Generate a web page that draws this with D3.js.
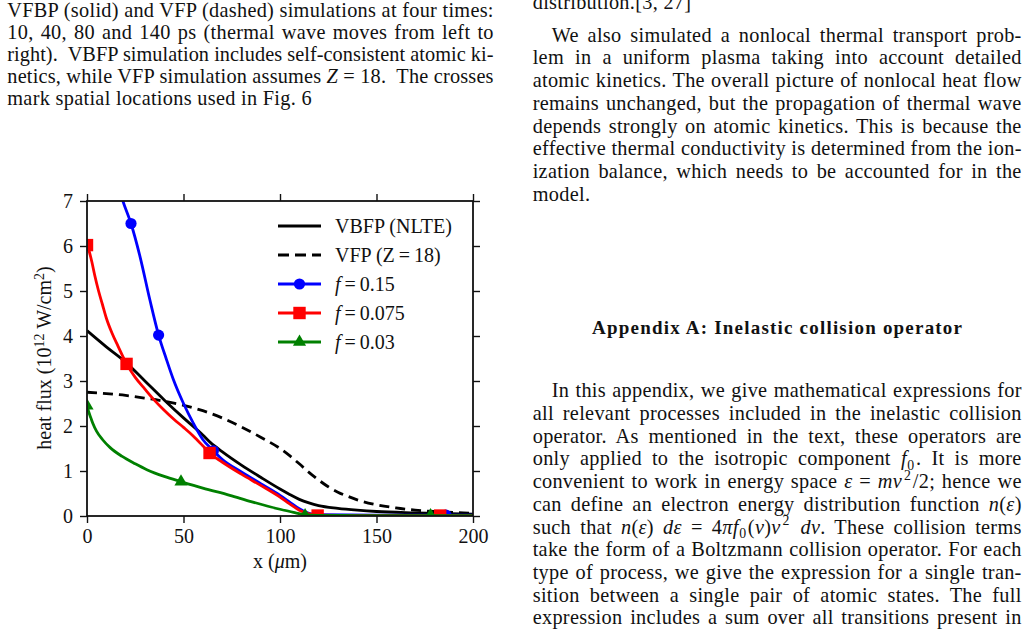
<!DOCTYPE html>
<html>
<head>
<meta charset="utf-8">
<script src="https://cdnjs.cloudflare.com/ajax/libs/d3/7.8.5/d3.min.js"></script>
<style>
body{margin:0;background:#fff;}
svg{display:block;}
</style>
</head>
<body>
<div id="page"></div>
<script>
// ---- chart data ----
var xTicks = [0, 50, 100, 150, 200];
var yTicks = [0, 1, 2, 3, 4, 5, 6, 7];

var xVBFP = [0, 10, 20, 30, 40, 50, 60, 64, 70, 80, 90, 100, 105, 110, 115, 120, 130, 140, 150, 170, 200];
var yVBFP = [4.12, 3.76, 3.42, 3.0, 2.58, 2.18, 1.8, 1.63, 1.43, 1.13, 0.86, 0.6, 0.48, 0.37, 0.29, 0.23, 0.17, 0.13, 0.1, 0.07, 0.04];

var xVFP = [0, 10, 20, 30, 40, 50, 60, 70, 80, 90, 100, 105, 110, 115, 120, 125, 130, 135, 140, 150, 160, 170, 180, 190, 200];
var yVFP = [2.75, 2.72, 2.68, 2.62, 2.55, 2.46, 2.34, 2.18, 1.98, 1.75, 1.5, 1.34, 1.16, 0.97, 0.8, 0.65, 0.53, 0.44, 0.36, 0.25, 0.18, 0.13, 0.1, 0.08, 0.06];

var xF015 = [16.5, 18.6, 22.8, 27.5, 32.6, 37.1, 41, 44.6, 50, 55, 60, 65.5, 70, 80, 90, 100, 105, 110, 115, 120, 150, 186, 200];
var yF015 = [7.3, 7.0, 6.5, 5.76, 4.8, 4.02, 3.5, 3.05, 2.5, 2.07, 1.7, 1.45, 1.26, 0.98, 0.72, 0.46, 0.31, 0.16, 0.06, 0.03, 0.02, 0.02, 0.02];
var mxF015 = [22.8, 37.1, 65.5, 186];
var myF015 = [6.5, 4.02, 1.45, 0.02];

var xF0075 = [0, 1, 2.5, 4, 6, 8, 10, 13, 16, 20.5, 25, 30, 35, 40, 45, 50, 55, 60, 63.5, 70, 80, 90, 100, 105, 110, 115, 120, 140, 170, 200];
var yF0075 = [6.02, 5.9, 5.65, 5.35, 5.0, 4.7, 4.4, 4.06, 3.78, 3.38, 3.08, 2.82, 2.57, 2.35, 2.15, 1.97, 1.78, 1.56, 1.4, 1.2, 0.93, 0.68, 0.42, 0.27, 0.13, 0.05, 0.02, 0.01, 0.01, 0.01];
var mxF0075 = [0, 20.5, 63.5, 119.5, 183];
var myF0075 = [6.02, 3.38, 1.4, 0.01, 0.01];

var xF003 = [0, 1, 2, 3, 5, 8, 12, 18, 25, 31, 40, 49, 60, 74, 85, 91, 100, 107, 113, 120, 140, 178, 200];
var yF003 = [2.45, 2.3, 2.18, 2.06, 1.88, 1.7, 1.52, 1.33, 1.16, 1.03, 0.88, 0.76, 0.62, 0.46, 0.32, 0.25, 0.15, 0.08, 0.03, 0.015, 0.01, 0.01, 0.01];
var mxF003 = [0, 48.7, 113, 178];
var myF003 = [2.45, 0.76, 0.01, 0.01];

var legendLabels = ["VBFP (NLTE)", "VFP (Z\u2009=\u200918)", "0.15", "0.075", "0.03"];

// ---- surrounding paper text ----
var captionLines = [
  ["VFBP (solid) and VFP (dashed) simulations at four times:"],
  ["10, 40, 80 and 140 ps (thermal wave moves from left to"],
  ["right).  VBFP simulation includes self-consistent atomic ki-"],
  ["netics, while VFP simulation assumes ", {t: "Z", i: 1}, " = 18.  The crosses"],
  ["mark spatial locations used in Fig. 6"]
];
var rightLines = [
  ["We also simulated a nonlocal thermal transport prob-"],
  ["lem in a uniform plasma taking into account detailed"],
  ["atomic kinetics. The overall picture of nonlocal heat flow"],
  ["remains unchanged, but the propagation of thermal wave"],
  ["depends strongly on atomic kinetics. This is because the"],
  ["effective thermal conductivity is determined from the ion-"],
  ["ization balance, which needs to be accounted for in the"],
  ["model."]
];
var appendixLines = [
  ["In this appendix, we give mathematical expressions for"],
  ["all relevant processes included in the inelastic collision"],
  ["operator. As mentioned in the text, these operators are"],
  ["only applied to the isotropic component ", {t: "f", i: 1}, {t: "0", sub: 1}, ". It is more"],
  ["convenient to work in energy space ", {t: "\u03b5", i: 1}, " = ", {t: "mv", i: 1}, {t: "2", sup: 1}, "/2; hence we"],
  ["can define an electron energy distribution function ", {t: "n", i: 1}, "(", {t: "\u03b5", i: 1}, ")"],
  ["such that ", {t: "n", i: 1}, "(", {t: "\u03b5", i: 1}, ") ", {t: "d\u03b5", i: 1}, " = 4", {t: "\u03c0f", i: 1}, {t: "0", sub: 1}, "(", {t: "v", i: 1}, ")", {t: "v", i: 1}, {t: "2", sup: 1}, " ", {t: "dv", i: 1}, ". These collision terms"],
  ["take the form of a Boltzmann collision operator. For each"],
  ["type of process, we give the expression for a single tran-"],
  ["sition between a single pair of atomic states. The full"],
  ["expression includes a sum over all transitions present in"]
];

var W = 1029, H = 632;
var serif = "'Liberation Serif', 'Times New Roman', serif";

var svg = d3.select("#page").append("svg")
  .attr("width", W).attr("height", H)
  .style("background", "#fff");

// writes one line of text, justified to width when width is given
function textLine(g, x, y, segs, width, size, weight) {
  var t = g.append("text").attr("x", x).attr("y", y)
    .attr("fill", "#111")
    .style("font-family", serif)
    .style("font-size", size + "px")
    .style("font-weight", weight || "normal")
    .style("letter-spacing", "0.3px")
    .style("white-space", "pre");
  var shift = 0, prevScript = false, extra = 0;
  segs.forEach(function(s) {
    if (typeof s === "string") s = {t: s};
    var sp = t.append("tspan").text(s.t);
    var target = 0;
    if (s.sub) target = 0.22 * size;
    if (s.sup) target = -0.4 * size;
    if (target !== shift) { sp.attr("dy", target - shift); shift = target; }
    if (s.sub || s.sup) {
      var d = s.sup ? 2 : 0.5;
      sp.style("font-size", (size * 0.68) + "px").attr("dx", d);
      extra += d;
      prevScript = true;
    } else if (prevScript) {
      sp.attr("dx", 1.5);
      extra += 1.5;
      prevScript = false;
    }
    if (s.i) sp.style("font-style", "italic");
  });
  if (width) {
    var nat = t.node().getComputedTextLength() + extra;
    var gaps = (t.text().match(/ /g) || []).length;
    if (nat < width && gaps) t.style("word-spacing", ((width - nat) / gaps) + "px");
    else t.attr("textLength", width - extra).attr("lengthAdjust", "spacing");
  }
  return t;
}

var paper = svg.append("g");
var fs = 20.3;

// left caption
captionLines.forEach(function(l, i) {
  var last = i === captionLines.length - 1;
  textLine(paper, 7.3, 17.3 + i * 21.9, l, last ? 0 : 486.5, fs);
});

// right column
textLine(paper, 532.7, 9.3, ["distribution.[3, 27]"], 0, fs);
rightLines.forEach(function(l, i) {
  var last = i === rightLines.length - 1;
  var x0 = i === 0 ? 551.7 : 532.7;
  textLine(paper, x0, 41.7 + i * 22.7, l, last ? 0 : 1021.7 - x0, fs);
});

paper.append("text")
  .attr("x", 777).attr("y", 334)
  .attr("text-anchor", "middle")
  .attr("fill", "#111")
  .style("font-family", serif).style("font-size", "19px").style("font-weight", "bold")
  .attr("textLength", 370).attr("lengthAdjust", "spacing")
  .text("Appendix A: Inelastic collision operator");

appendixLines.forEach(function(l, i) {
  var x0 = i === 0 ? 551.7 : 532.7;
  textLine(paper, x0, 397.3 + i * 22.7, l, 1021.7 - x0, fs);
});

// ---- chart ----
var x = d3.scaleLinear().domain([0, 200]).range([87, 473]);
var y = d3.scaleLinear().domain([0, 7]).range([516, 201]);
var chart = svg.append("g");
var cfs = 20;

svg.append("defs").append("clipPath").attr("id", "plotclip")
  .append("rect")
  .attr("x", x(0)).attr("y", y(7))
  .attr("width", x(200) - x(0)).attr("height", y(0) - y(7));

function styleAxis(g, labels) {
  g.select(".domain").remove();
  g.selectAll(".tick line").attr("stroke", "#111").attr("stroke-width", 1.4);
  g.selectAll(".tick text")
    .style("font-family", serif).style("font-size", cfs + "px").attr("fill", "#111");
  if (!labels) g.selectAll(".tick text").remove();
}

chart.append("g").attr("transform", "translate(0," + y(0) + ")")
  .call(d3.axisBottom(x).tickValues(xTicks).tickFormat(d3.format("d")).tickSize(7).tickPadding(6))
  .call(styleAxis, true);
chart.append("g").attr("transform", "translate(0," + y(7) + ")")
  .call(d3.axisTop(x).tickValues(xTicks).tickSize(7))
  .call(styleAxis, false);
chart.append("g").attr("transform", "translate(" + x(0) + ",0)")
  .call(d3.axisLeft(y).tickValues(yTicks).tickFormat(d3.format("d")).tickSize(7).tickPadding(7))
  .call(styleAxis, true);
chart.append("g").attr("transform", "translate(" + x(200) + ",0)")
  .call(d3.axisRight(y).tickValues(yTicks).tickSize(7))
  .call(styleAxis, false);

var plot = chart.append("g").attr("clip-path", "url(#plotclip)");

var line = d3.line()
  .x(function(d) { return x(d[0]); })
  .y(function(d) { return y(d[1]); })
  .curve(d3.curveMonotoneX);

function zip(a, b) { return a.map(function(v, i) { return [v, b[i]]; }); }

var series = [
  {xs: xVBFP, ys: yVBFP, color: "#000", dash: null},
  {xs: xVFP, ys: yVFP, color: "#000", dash: "10,6"},
  {xs: xF015, ys: yF015, color: "#0000ff", dash: null, mx: mxF015, my: myF015, marker: "circle"},
  {xs: xF0075, ys: yF0075, color: "#ff0000", dash: null, mx: mxF0075, my: myF0075, marker: "square"},
  {xs: xF003, ys: yF003, color: "#008000", dash: null, mx: mxF003, my: myF003, marker: "triangle"}
];

function drawMarker(g, kind, cx, cy, color) {
  if (kind === "circle") {
    g.append("circle").attr("cx", cx).attr("cy", cy).attr("r", 5.6).attr("fill", color);
  } else if (kind === "square") {
    g.append("rect").attr("x", cx - 6.2).attr("y", cy - 6.2)
      .attr("width", 12.4).attr("height", 12.4).attr("fill", color);
  } else {
    var sym = d3.symbol().type(d3.symbolTriangle).size(75);
    g.append("path").attr("d", sym()).attr("transform", "translate(" + cx + "," + cy + ")").attr("fill", color);
  }
}

series.forEach(function(s) {
  plot.append("path")
    .datum(zip(s.xs, s.ys))
    .attr("d", line)
    .attr("fill", "none")
    .attr("stroke", s.color)
    .attr("stroke-width", 2.8)
    .attr("stroke-dasharray", s.dash);
  if (s.mx) {
    s.mx.forEach(function(mx, i) { drawMarker(plot, s.marker, x(mx), y(s.my[i]), s.color); });
  }
});

// frame
chart.append("rect")
  .attr("x", x(0)).attr("y", y(7))
  .attr("width", x(200) - x(0)).attr("height", y(0) - y(7))
  .attr("fill", "none").attr("stroke", "#111").attr("stroke-width", 1.8);

// axis titles
var yl = chart.append("text")
  .attr("transform", "translate(51,358) rotate(-90)")
  .attr("text-anchor", "middle")
  .attr("fill", "#111")
  .style("font-family", serif).style("font-size", cfs + "px");
yl.append("tspan").text("heat flux (10");
yl.append("tspan").text("12").attr("dy", -7).style("font-size", "14px");
yl.append("tspan").text(" W/cm").attr("dy", 7);
yl.append("tspan").text("2").attr("dy", -7).style("font-size", "14px");
yl.append("tspan").text(")").attr("dy", 7);

var xl = chart.append("text")
  .attr("x", 280).attr("y", 568)
  .attr("text-anchor", "middle")
  .attr("fill", "#111")
  .style("font-family", serif).style("font-size", cfs + "px");
xl.append("tspan").text("x (");
xl.append("tspan").text("\u03bc").style("font-style", "italic");
xl.append("tspan").text("m)");

// legend
var legRows = [226, 255, 284, 313, 342];
var leg = chart.append("g");
series.forEach(function(s, i) {
  var ly = legRows[i];
  leg.append("line")
    .attr("x1", 278).attr("x2", 321).attr("y1", ly).attr("y2", ly)
    .attr("stroke", s.color).attr("stroke-width", 2.8)
    .attr("stroke-dasharray", s.dash ? "11,6" : null);
  if (s.marker) drawMarker(leg, s.marker, 299.5, ly, s.color);
  var t = leg.append("text").attr("x", 335).attr("y", ly + 7)
    .attr("fill", "#111")
    .style("font-family", serif).style("font-size", cfs + "px");
  if (i < 2) {
    t.text(legendLabels[i]);
  } else {
    t.append("tspan").text("f").style("font-style", "italic");
    t.append("tspan").text("\u2009=\u2009" + legendLabels[i]);
  }
});
</script>
</body>
</html>
